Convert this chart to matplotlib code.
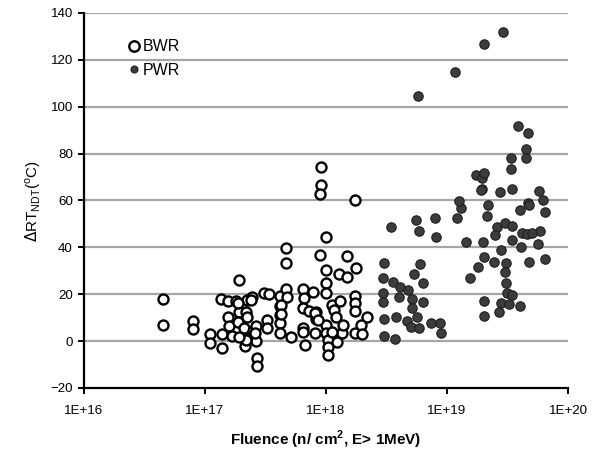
import numpy as np
import matplotlib
matplotlib.use("Agg")
import matplotlib.pyplot as plt
from matplotlib.lines import Line2D

plt.rcParams['font.family'] = ['Liberation Sans', 'DejaVu Sans']

# Shift in nil-ductility reference temperature vs. neutron fluence
# Fluence given as log10(n/cm^2), shift in degC
bwr_log_fluence = [
    16.65, 16.65, 16.90, 16.90, 17.04, 17.04, 17.14, 17.14, 17.13, 17.19,
    17.19, 17.20, 17.22, 17.26, 17.28, 17.28, 17.27, 17.31, 17.33, 17.32,
    17.34, 17.35, 17.35, 17.39, 17.40, 17.42, 17.43, 17.43, 17.49, 17.51,
    17.51, 17.62, 17.62, 17.62, 17.62, 17.62, 17.67, 17.68, 17.67, 17.67,
    17.71, 17.81, 17.83, 17.81, 17.82, 17.81, 17.86, 17.89, 17.91, 17.92,
    17.92, 17.95, 18.00, 18.00, 18.00, 18.00, 18.05, 18.07, 18.08, 18.00,
    18.00, 18.02, 18.02, 18.02, 18.09, 18.11, 17.96, 17.96, 17.95, 18.24,
    18.17, 18.17, 18.25, 17.53, 17.63, 17.91, 18.12, 18.24, 18.24, 18.24,
    18.34, 17.63, 17.81, 17.93, 18.13, 18.14, 18.24, 18.29, 18.30, 18.05,
    17.27, 17.34, 17.38, 17.42, 17.28, 17.41,
]
bwr_shift = [
    17.9, 6.8, 8.5, 5.1, 3.0, -0.9, -3.0, 3.0, 17.9, 17.1,
    10.3, 6.4, 2.1, 17.1, 12.4, 26.1, 8.1, 1.7, -2.1, 5.6,
    12.4, 10.3, 17.5, 18.8, 4.3, 0.0, -7.3, -10.7, 20.5, 9.0,
    5.6, 19.2, 15.0, 11.1, 7.7, 3.4, 22.2, 18.8, 39.7, 33.3,
    1.7, 5.6, -1.7, 22.2, 18.4, 14.1, 12.8, 20.9, 3.4, 12.4,
    9.4, 36.8, 30.3, 24.8, 20.5, 44.4, 15.4, 13.2, 10.3, 6.8,
    3.4, 0.4, -2.6, -6.0, -0.4, 28.6, 74.4, 66.7, 62.8, 60.3,
    36.3, 27.4, 31.2, 20.1, 15.4, 12.0, 17.1, 19.2, 16.2, 12.8,
    10.3, 11.5, 3.8, 9.0, 3.4, 6.8, 3.4, 6.8, 3.0, 3.8,
    16.2, 0.4, 17.5, 6.4, 1.7, 3.4,
]

pwr_log_fluence = [
    19.46, 19.31, 19.07, 18.76, 18.54, 18.74, 18.90, 18.77, 18.91, 19.08,
    19.12, 19.16, 19.30, 19.31, 19.26, 19.19, 19.29, 19.24, 19.44, 19.54,
    19.53, 19.33, 19.41, 19.40, 19.48, 19.54, 19.45, 19.49, 19.48, 19.49,
    19.50, 19.45, 19.43, 19.60, 19.31, 19.31, 19.60, 19.67, 19.81, 19.62,
    19.66, 19.77, 19.75, 19.68, 19.81, 19.61, 19.53, 19.65, 19.65, 19.59,
    19.67, 19.29, 19.28, 19.34, 19.68, 19.70, 19.39, 19.51, 19.76, 19.79,
    18.48, 18.78, 18.47, 18.55, 18.47, 18.47, 18.60, 18.61, 18.68, 18.71,
    18.73, 18.80, 18.80, 18.71, 18.48, 18.58, 18.67, 18.75, 18.70, 18.77,
    18.87, 18.94, 18.95, 18.48, 18.57, 19.54, 19.10, 19.31, 19.54,
]
pwr_shift = [
    132.1, 126.9, 115.0, 104.7, 48.7, 51.7, 52.6, 47.0, 44.4, 52.6,
    56.8, 42.3, 42.3, 35.9, 31.6, 26.9, 65.0, 70.9, 63.7, 65.0,
    73.5, 53.4, 48.7, 45.3, 50.4, 49.1, 38.9, 33.3, 29.5, 24.8,
    20.5, 16.2, 12.4, 15.0, 17.1, 10.7, 56.0, 59.0, 55.1, 46.2,
    45.7, 47.0, 41.5, 33.8, 35.0, 40.2, 78.2, 78.2, 82.1, 91.9,
    88.9, 69.7, 64.5, 58.1, 58.1, 46.2, 33.8, 15.8, 64.1, 60.3,
    33.3, 32.9, 26.9, 25.2, 20.5, 16.7, 18.8, 23.1, 21.8, 17.9,
    28.6, 24.8, 16.7, 14.1, 9.4, 10.3, 8.5, 10.3, 6.0, 5.6,
    7.7, 7.7, 3.4, 2.1, 0.9, 19.7, 59.8, 71.8, 43.2,
]

x_ticks = [1e16, 1e17, 1e18, 1e19, 1e20]
x_tick_labels = ["1E+16", "1E+17", "1E+18", "1E+19", "1E+20"]
y_ticks = [-20, 0, 20, 40, 60, 80, 100, 120, 140]

bwr_fluence = 10 ** np.array(bwr_log_fluence)
pwr_fluence = 10 ** np.array(pwr_log_fluence)

fig = plt.figure(figsize=(6.05, 4.54), dpi=100)
ax = fig.add_axes([0.1388, 0.1454, 0.8, 0.826])

for y in y_ticks[1:]:
    ax.axhline(y, color="#a6a6a6", lw=1.6, zorder=1)

ax.scatter(pwr_fluence, pwr_shift, s=46, facecolor="#3c3c3c",
           edgecolor="#1e1e1e", linewidths=0.8, zorder=3)
ax.scatter(bwr_fluence, bwr_shift, s=52, facecolor="white",
           edgecolor="black", linewidths=1.7, zorder=4)

ax.set_xscale("log")
ax.set_xlim(1e16, 1e20)
ax.set_ylim(-20, 140)
ax.set_xticks(x_ticks)
ax.set_xticklabels(x_tick_labels)
ax.minorticks_off()
ax.set_yticks(y_ticks)

for side in ("top", "right"):
    ax.spines[side].set_visible(False)
for side in ("left", "bottom"):
    ax.spines[side].set_linewidth(1.6)
ax.tick_params(axis="both", direction="out", length=4, width=1.4,
               labelsize=9.6, pad=4)
ax.tick_params(axis="x", pad=8)

ax.set_xlabel("Fluence (n/ cm$^\\mathregular{2}$, E> 1MeV)", fontsize=11,
              fontweight="bold", labelpad=9)
ax.set_ylabel("$\\Delta$RT$_\\mathregular{NDT}$($^\\mathregular{o}$C)",
              fontsize=11, labelpad=5)

handles = [
    Line2D([], [], ls="none", marker="o", ms=7.5, mfc="white", mec="black",
           mew=1.7),
    Line2D([], [], ls="none", marker="o", ms=5, mfc="#3c3c3c", mec="#1e1e1e",
           mew=0.8),
]
ax.legend(handles, ["BWR", "PWR"], loc="upper left", frameon=False,
          bbox_to_anchor=(0.077, 0.947), fontsize=11.5, handlelength=0.8,
          handletextpad=0.15, labelspacing=0.55, borderaxespad=0)

fig.savefig("out.png", dpi=100)
